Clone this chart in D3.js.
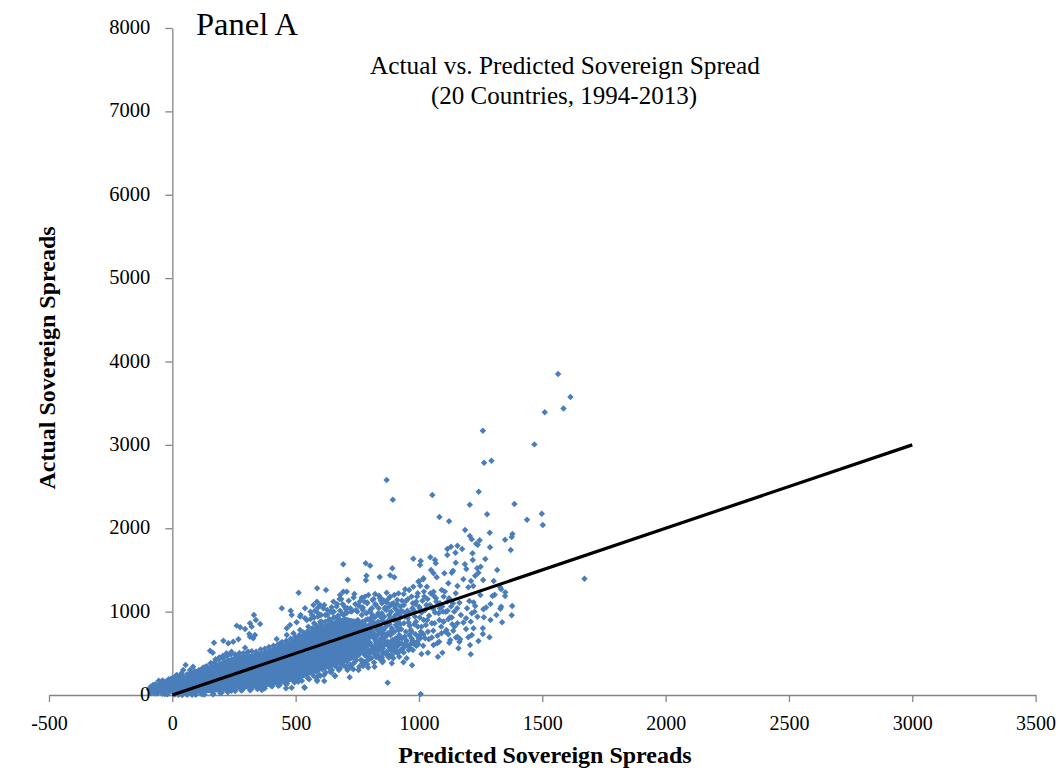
<!DOCTYPE html>
<html>
<head>
<meta charset="utf-8">
<script src="https://cdn.jsdelivr.net/npm/d3@7"></script>
<style>
  body { margin: 0; background: #fff; }
  text { font-family: "Liberation Serif", serif; fill: #000; }
</style>
</head>
<body>
<div id="scatter"></div>
<script>
var xTicks = [-500, 0, 500, 1000, 1500, 2000, 2500, 3000, 3500];
var yTicks = [0, 1000, 2000, 3000, 4000, 5000, 6000, 7000, 8000];

// 45 degree reference line
var lineX = [0, 3000];
var lineY = [0, 3000];

// Points that can be told apart in the picture: the upper tail
var tailX = [1564,1614,1586,1510,1259,1468,1264,1294,869,894,1054,1242,1206,1387,1083,1122,1276,1498,1438,1502,1187,1287,1379,1376,1349,1206,1214,1246,1232,1238,1156,1130,1115,1175,1288,1372,1671,
  1148,1115,1217,1218,1269,1149,1186,1192,1236,1250,1241,1228,1317,1260,1303,1138,1133,1103,1046,1065,1068,1007,1004,977,1049,1059,1072,892,883,900,841,784,802,787,785,693,711,587,623];
var tailY = [3849,3573,3437,3390,3170,3006,2785,2810,2578,2342,2398,2438,2282,2290,2134,2083,2167,2174,2102,2038,1978,1946,1930,1894,1862,1906,1867,1855,1814,1802,1790,1778,1750,1750,1771,1739,1394,
  1706,1679,1699,1619,1631,1586,1567,1511,1519,1538,1466,1430,1499,1379,1367,1490,1466,1459,1651,1619,1579,1607,1559,1634,1499,1459,1411,1519,1435,1411,1415,1579,1550,1430,1375,1567,1382,1279,1259];

// Right side of the cloud, around and under the line
var rightX = [1017,1000,1119,1156,1180,1211,1200,1220,1092,1249,1298,1307,1329,1333,1350,1349,1164,1204,1221,1228,1290,1261,1272,1333,1330,1378,1376,1337,1290,1314,1263,1214,1237,1191,1156,1119,1099,1109,1139,1119,1156,1191,1221,1259,1286,1259,1241,1214,1200,1207,1210,1167,1164,1160,1123,1082,1059,1095,1077,1036,1010,975,972,950,937,852,896,890,873,1007,719,616,537,773,659,587];
var rightY = [1387,1363,1339,1307,1387,1367,1291,1307,1259,1199,1187,1203,1291,1267,1231,1187,1107,1127,1111,1067,1091,1028,1050,1059,1035,1067,956,872,899,959,932,980,939,920,860,908,879,999,771,728,699,791,800,800,692,731,647,719,692,599,488,668,639,560,627,639,599,507,459,507,491,540,356,440,392,392,440,380,147,12,212,168,88,348,228,168];

// Top edge of the cloud
var topX = [512,444,480,538,572,586,599,646,693,707,680,738,768,795,822,842,869,883,917,944,977,998,1018,1032,1059,
  520,545,560,575,590,600,612,628,640,655,668,672,685,698,700,715,722,735,742,750,760,772,781,790,803,812,825,838,850,862,875,888,900,912,925,938,948,960,970,985,995,1005,1020,1035,1045,1060,1070,1085,1100,1115,1130];
var topY = [1227,1040,1011,1040,1079,1119,1079,1052,1239,1239,1199,1211,1167,1199,1211,1160,1227,1179,1219,1267,1299,1359,1399,1299,1239,
  960,900,1000,930,985,880,1040,960,890,1000,1090,930,1150,1060,980,1130,1040,1170,1090,1000,1120,1050,1180,1110,1020,1140,1080,1190,1100,1030,1150,1090,1200,1140,1060,1210,1130,1260,1180,1090,1220,1310,1240,1150,1080,1190,1120,1040,1180,1120,1060];

// Middle and lower part of the loose cloud
var midX = [905,915,928,935,942,955,962,970,980,988,993,1003,1010,1018,1025,1033,1040,1052,1058,1065,1075,1083,1090,1098,1108,1125,1135,1143,1150,1170,1180,1195,1210,1225,
  725,740,755,770,790,805,820,835,850,868,880,905,920,940,958,975,990,1000,880,860,840,900,920,820,800,780];
var midY = [960,880,790,1000,700,920,830,760,1010,880,640,930,820,730,1020,900,670,860,770,990,710,900,820,1000,760,930,850,1000,690,960,870,1040,880,1000,
  330,400,300,410,370,440,340,480,450,520,470,530,460,590,540,640,590,700,620,600,560,640,700,520,500,480];

// Thickest part of the loose cloud, where the markers overlap but still leave gaps
var denseX = [765,771,776,782,787,793,798,804,809,815,820,826,
  768,774,779,785,790,796,801,807,812,818,823,829,
  762,773,783,794,805,816,827,838,849,860,871,882,
  832,837,843,848,854,859,865,870,876,881,887,892,
  835,841,846,852,857,863,868,874,879,885,890,896,
  840,851,862,873,884,895,906,917,928,939,950,961,
  898,903,909,914,920,925,931,936,942,947,953,958,
  900,906,911,917,922,928,933,939,944,950,955,961,
  964,970,975,981,986,992,997,1003,1008,1014,1019,1025,
  967,973,978,984,989,995,1000,1006,1011,1017,1022,1028,
  1030,1036,1041,1047,1052,1058,1063,1069,1074,1080,1085,1091,
  1094,1100,1105,1111,1116,1122,1127,1133,1138,1144,1149,1155,
  745,752,760,767,775,782,790,797,805,812,820,827,
  748,756,763,771,778,786,793,801,808,816,823,831,
  838,846,853,861,868,876,883,891,898,906,913,921,
  835,843,850,858,865,873,880,888,895,903,910,918,
  566,578,591,603,616,628,641,653,666,678,691,703,
  572,584,597,609,622,634,647,659,672,684,697,709,
  560,575,590,605,620,635,650,665,680,695,710,730,
  792,798,805,811,818,824,831,837,844,850,857,863,
  795,801,808,814,821,827,834,840,847,853,860,866,
  722,734,746,758,770,782,794,806,818,830,842,854,
  866,878,890,902,914,926,938,950,962,974,986,998];
var denseY = [640,880,520,760,980,590,840,700,1040,500,930,620,
  960,560,700,900,460,780,1000,540,860,680,1090,460,
  800,1020,620,540,920,740,820,540,980,640,880,560,
  720,1040,600,800,510,940,700,1110,590,850,1000,660,
  880,660,1130,560,780,1050,500,740,960,620,800,1100,
  960,690,620,840,720,580,680,780,620,1080,650,720,
  900,1040,600,980,720,850,1130,560,940,760,1010,870,
  760,840,1090,630,920,1010,680,860,620,980,1150,600,
  980,680,1100,850,730,1180,610,1040,760,1130,900,680,
  780,1040,620,940,1120,820,1060,680,990,590,1180,840,
  1080,760,950,1220,690,1030,860,1160,620,980,1100,740,
  1060,880,1240,780,1010,1160,660,930,1100,820,1220,1040,
  740,900,660,1050,610,840,1100,430,720,960,570,790,
  480,1070,840,680,1120,500,910,630,770,1150,710,540,
  760,1160,890,690,1020,590,920,740,1080,530,810,960,
  980,610,730,1130,860,640,1060,770,920,560,1020,670,
  960,1010,1050,960,1080,1020,1000,1120,1060,1150,1090,1030,
  230,280,240,310,270,330,300,350,320,370,350,400,
  910,860,940,880,960,900,990,930,1010,960,1040,1010,
  680,780,600,880,720,650,830,590,760,920,690,810,
  610,900,740,570,860,700,960,640,790,560,730,870,
  360,310,420,340,380,400,330,440,390,470,430,410,
  490,450,480,520,500,540,510,600,570,620,600,680];

// Rough rim along the top and bottom of the solid core
var rimX = [-70,-40,-22,-5,12,28,45,60,78,92,108,125,
  140,158,172,188,205,222,238,255,272,288,305,322,
  340,358,375,392,410,428,445,462,480,498,515,532,
  550,568,585,602,620,638,655,672,690,708,725,745,
  -70,-40,-20,25,60,95,130,165,195,225,255,285,
  315,345,375,405,435,465,495,525,555,585,615,645,
  675,705,735,765,795,825,855,885,915,945,975,1005];
var rimY = [120,175,165,195,205,225,215,250,265,285,300,330,
  345,375,395,425,440,465,490,485,505,500,510,525,
  520,545,555,575,590,605,635,650,675,700,720,750,
  770,800,830,855,880,910,930,950,970,985,1000,1020,
  18,16,10,2,4,2,6,8,22,32,48,62,
  58,72,80,105,120,135,150,170,190,210,240,270,
  300,340,380,420,450,460,500,540,590,620,650,720];

// Low end of the cloud, including the small group standing above it
var lowX = [54,84,44,72,18,38,153,164,169,207,227,247,268,261,275,295,315,331,339,356,322,312,335,328,315,295,308,423,437,464,477,484,504,518,538,464,491,518,551,
  -95,-88,-78,-68,-55,-45,-30,-15,0,15,-10,30,70,100,120,135,155,175,190,205,220,240,
  -85,-60,-30,10,40,80,120,166,200,240,280,320,363,400,430,457,461,484,535,510,550,600,586,640,660,680,710];
var lowY = [360,340,300,300,240,264,532,508,628,652,620,640,668,832,812,792,860,960,900,852,820,732,720,680,700,568,520,672,620,800,840,960,872,940,920,720,740,780,820,
  70,100,120,130,170,150,160,190,200,230,150,210,250,270,310,340,380,430,450,470,500,520,
  25,20,12,5,0,2,8,12,30,50,55,70,60,110,110,140,80,88,92,160,200,230,180,280,232,320,300];

// Where the markers run together into one solid shape and none can be read
// on its own, only the shape's top and bottom are read off the picture
var coreX = [-90,-50,3,52,100,153,206,262,315,368,437,506,571,640,700,760,800];
var coreTop = [84,156,180,228,276,348,420,480,492,528,600,695,803,880,940,900,800];
var coreBottom = [24,24,12,12,12,24,36,60,72,84,132,168,252,320,380,450,600];

// Set up chart
var svgWidth = 1064;
var svgHeight = 773;

var xScale = d3.scaleLinear().domain([-500, 3500]).range([49, 1035.6]);
var yScale = d3.scaleLinear().domain([0, 8000]).range([695, 28]);

var svg = d3.select("#scatter")
  .append("svg")
  .attr("width", svgWidth)
  .attr("height", svgHeight);

// Axis lines go under the markers
var bottomAxis = d3.axisBottom(xScale)
  .tickValues(xTicks)
  .tickSize(7)
  .tickSizeOuter(0)
  .tickPadding(14)
  .tickFormat(d => String(d));

var leftAxis = d3.axisLeft(yScale)
  .tickValues(yTicks)
  .tickSize(7)
  .tickSizeOuter(0)
  .tickFormat("");

var xAxisGroup = svg.append("g")
  .attr("transform", `translate(0, ${yScale(0)})`)
  .call(bottomAxis);

var yAxisGroup = svg.append("g")
  .attr("transform", `translate(${xScale(0)}, 0)`)
  .call(leftAxis);

svg.selectAll(".domain, .tick line")
  .attr("stroke", "#868686")
  .attr("stroke-width", 1.3);

xAxisGroup.selectAll("text")
  .attr("font-size", 20)
  .attr("font-family", "Liberation Serif");

// Solid core of the cloud
var coreArea = d3.area()
  .x(d => xScale(coreX[d]))
  .y0(d => yScale(coreBottom[d]))
  .y1(d => yScale(coreTop[d]));

svg.append("path")
  .attr("d", coreArea(d3.range(coreX.length)))
  .attr("fill", "#4a7ebb");

// Add points on the graph
var pointData = [];
[[tailX, tailY], [rightX, rightY], [topX, topY], [midX, midY], [denseX, denseY], [rimX, rimY], [lowX, lowY]].forEach(function(group) {
  group[0].forEach(function(x, i) {
    pointData.push({ x: x, y: group[1][i] });
  });
});

var marker = d3.symbol().type(d3.symbolSquare).size(21);

svg.append("g")
  .selectAll("path")
  .data(pointData)
  .enter()
  .append("path")
  .attr("d", marker)
  .attr("transform", d => `translate(${xScale(d.x)}, ${yScale(d.y)}) rotate(45)`)
  .attr("fill", "#4a7ebb");

// Reference line
var line = d3.line()
  .x(d => xScale(lineX[d]))
  .y(d => yScale(lineY[d]));

svg.append("path")
  .attr("d", line(d3.range(lineX.length)))
  .attr("fill", "none")
  .attr("stroke", "#000")
  .attr("stroke-width", 3.2);

// y tick labels sit on top of the markers
var yLabelGroup = svg.append("g")
  .attr("transform", `translate(${xScale(0)}, -1)`)
  .call(d3.axisLeft(yScale).tickValues(yTicks).tickSize(0).tickPadding(22).tickFormat(d => String(d)));

yLabelGroup.select(".domain").remove();
yLabelGroup.selectAll("text")
  .attr("font-size", 20.5)
  .attr("font-family", "Liberation Serif");

// Titles
svg.append("text")
  .attr("x", 196)
  .attr("y", 35)
  .attr("font-size", 32.5)
  .text("Panel A");

svg.append("text")
  .attr("x", 565)
  .attr("y", 74)
  .attr("text-anchor", "middle")
  .attr("font-size", 25.3)
  .text("Actual vs. Predicted Sovereign Spread");

svg.append("text")
  .attr("x", 564)
  .attr("y", 104)
  .attr("text-anchor", "middle")
  .attr("font-size", 25)
  .text("(20 Countries, 1994-2013)");

// Create axes labels
svg.append("text")
  .attr("x", 545)
  .attr("y", 763)
  .attr("text-anchor", "middle")
  .attr("font-size", 24)
  .attr("font-weight", "bold")
  .text("Predicted Sovereign Spreads");

svg.append("text")
  .attr("transform", "translate(55, 358) rotate(-90)")
  .attr("text-anchor", "middle")
  .attr("font-size", 24)
  .attr("font-weight", "bold")
  .text("Actual Sovereign Spreads");
</script>
</body>
</html>
